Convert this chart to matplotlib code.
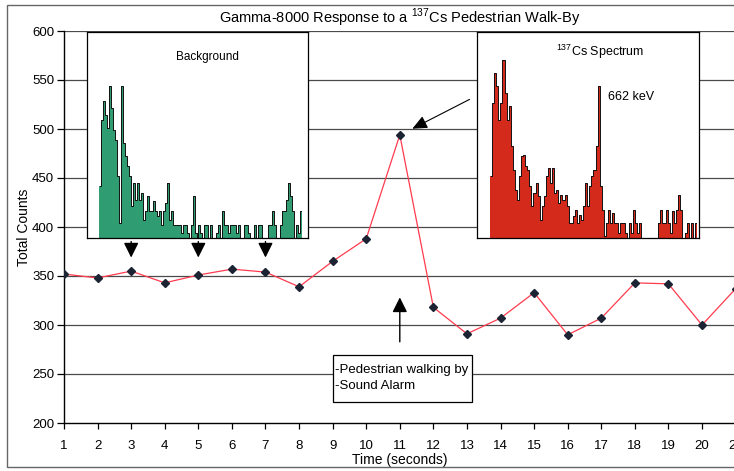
import matplotlib
matplotlib.use("Agg")
import matplotlib.pyplot as plt
from matplotlib.patches import Rectangle
import numpy as np

plt.rcParams['font.family'] = ['Liberation Sans Narrow', 'Liberation Sans', 'DejaVu Sans']
plt.rcParams['mathtext.fontset'] = 'custom'
plt.rcParams['mathtext.rm'] = 'Liberation Sans'

# ---- data ----
time_s = list(range(1, 22))
total_counts = [352, 348, 355, 343, 351, 357, 354, 339, 365, 388, 494,
                318, 291, 307, 333, 290, 307, 343, 342, 300, 337]
y_ticks = [200, 250, 300, 350, 400, 450, 500, 550, 600]

bg_counts = [52, 118, 137, 123, 110, 152, 130, 108, 98, 62, 15, 152, 95, 82, 72, 62,
             32, 55, 38, 55, 38, 45, 18, 27, 42, 27, 27, 37, 27, 22, 27, 13, 27, 35,
             55, 18, 27, 13, 13, 13, 13, 5, 13, 13, 5, 0, 13, 42, 5, 0, 13, 5, 0, 13,
             13, 0, 13, 0, 0, 5, 13, 0, 27, 13, 13, 5, 13, 13, 13, 5, 13, 0, 0, 13,
             13, 5, 0, 0, 13, 0, 13, 13, 0, 0, 0, 13, 13, 27, 13, 0, 0, 13, 27, 27,
             38, 55, 42, 27, 0, 13, 5, 27]
cs_counts = [62, 135, 165, 152, 118, 135, 178, 145, 118, 132, 92, 68, 48, 38, 62, 82,
             83, 72, 68, 52, 32, 45, 55, 42, 18, 32, 42, 62, 70, 55, 70, 45, 48, 35,
             43, 38, 43, 32, 15, 15, 22, 28, 15, 23, 18, 32, 55, 32, 52, 62, 68, 92,
             152, 52, 28, 2, 15, 28, 15, 25, 15, 15, 5, 15, 15, 5, 0, 15, 5, 28, 15,
             5, 15, 0, 0, 0, 0, 0, 0, 0, 0, 15, 28, 15, 15, 28, 15, 5, 27, 15, 28, 43,
             28, 0, 5, 15, 0, 15, 0, 15]

W, H = 734, 471
fig = plt.figure(figsize=(W / 100, H / 100), dpi=100)

def fx(px):
    return px / W

def fy(py):
    return 1 - py / H

# main axes
ax = fig.add_axes([fx(64), fy(423), fx(735.6) - fx(64), fy(31) - fy(423)])
ax.set_xlim(1, 21)
ax.set_ylim(200, 600)
ax.set_yticks(y_ticks)
ax.set_xticks(time_s)
for v in y_ticks[1:]:
    ax.axhline(v, color='#4a4a4a', lw=0.9, zorder=1)
ax.plot(time_s, total_counts, color='#ff3b4e', lw=0.9, zorder=3)
ax.plot(time_s, total_counts, ls='none', marker='D', ms=4, color='#1c2433', zorder=4)
for s in ['top', 'right']:
    ax.spines[s].set_visible(False)
ax.spines['left'].set_linewidth(1)
ax.spines['bottom'].set_linewidth(1)
ax.tick_params(axis='y', direction='out', length=5, width=0.9, labelsize=9.5, pad=2)
ax.tick_params(axis='x', direction='out', length=4, width=0.9, labelsize=9.5, pad=8)
ax.set_xlabel('Time (seconds)', fontsize=10, labelpad=1)
ax.set_ylabel('Total Counts', fontsize=10, labelpad=1)
ax.set_title('Gamma-8000 Response to a $^{137}$Cs Pedestrian Walk-By', fontsize=10.5, pad=6)

# arrows
arrow_kw = dict(arrowstyle='-|>,head_length=0.9,head_width=0.45', color='black', lw=1)
for xa in [3, 5, 7]:
    ax.annotate('', xy=(xa, 366), xytext=(xa, 388), arrowprops=arrow_kw, zorder=5)
ax.annotate('', xy=(11, 331), xytext=(11, 280), arrowprops=arrow_kw, zorder=5)
ax.annotate('', xy=(11.3, 499), xytext=(13.15, 531.5),
            arrowprops=dict(arrowstyle='-|>,head_length=0.9,head_width=0.4', color='black', lw=0.8), zorder=5)

# annotation box
ax.add_patch(Rectangle((9.01, 221.4), 4.14, 48.0, facecolor='white', edgecolor='black', lw=0.9, zorder=5))
ax.text(9.06, 245.5, '-Pedestrian walking by\n-Sound Alarm', fontsize=9.5, va='center', ha='left',
        linespacing=1.45, zorder=6, family=['Liberation Sans', 'DejaVu Sans'])

# inset: background
ax1 = fig.add_axes([fx(87), fy(238), fx(308) - fx(87), fy(32) - fy(238)])
nb = len(bg_counts)
ax1.bar(np.arange(nb), bg_counts, width=1.0, color='#2f9c72', edgecolor='none')
ax1.step(np.arange(nb), bg_counts, where='mid', color='#111111', lw=0.7)
ax1.set_xlim(-6.5, nb + 2.5)
ax1.set_ylim(0, 206)
ax1.set_xticks([]); ax1.set_yticks([])
for s in ax1.spines.values():
    s.set_linewidth(0.9)
ax1.text(0.547, 0.879, 'Background', transform=ax1.transAxes, ha='center', va='center',
         fontsize=8.5, family=['Liberation Sans', 'DejaVu Sans'])

# inset: Cs spectrum
ax2 = fig.add_axes([fx(477), fy(238), fx(699) - fx(477), fy(32) - fy(238)])
nc = len(cs_counts)
ax2.bar(np.arange(nc), cs_counts, width=1.0, color='#d42a1c', edgecolor='none')
ax2.step(np.arange(nc), cs_counts, where='mid', color='#111111', lw=0.7)
ax2.set_xlim(-6.8, nc + 0.5)
ax2.set_ylim(0, 206)
ax2.set_xticks([]); ax2.set_yticks([])
for s in ax2.spines.values():
    s.set_linewidth(0.9)
ax2.text(0.554, 0.903, '$^{137}$Cs Spectrum', transform=ax2.transAxes, ha='center', va='center',
         fontsize=9, family=['Liberation Sans', 'DejaVu Sans'])
ax2.text(0.59, 0.684, '662 keV', transform=ax2.transAxes, ha='left', va='center',
         fontsize=9, family=['Liberation Sans', 'DejaVu Sans'])

# figure border
fig.patches.append(Rectangle((fx(7), fy(467)), fx(745) - fx(7), fy(5) - fy(467),
                             transform=fig.transFigure, fill=False, edgecolor='#666666', lw=1))

fig.savefig('out.png', dpi=100)
